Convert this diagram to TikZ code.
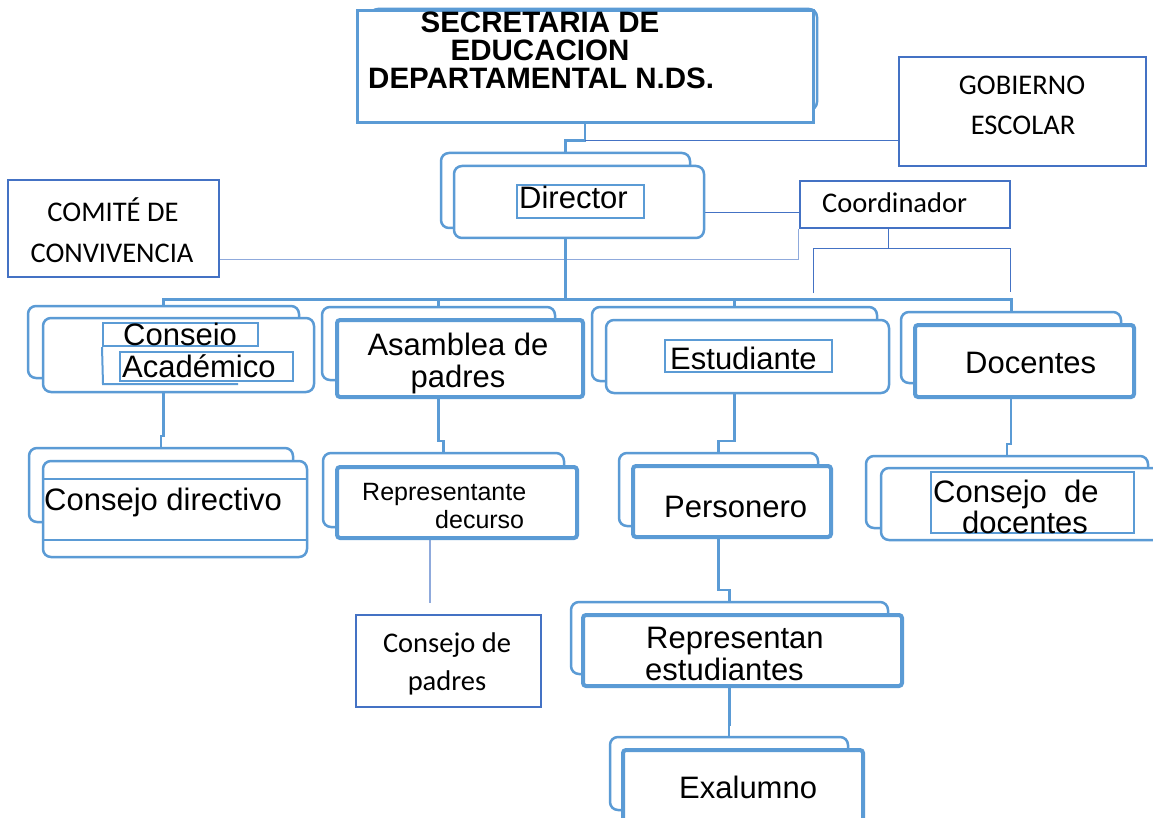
\documentclass[tikz,border=0pt]{standalone}
\usepackage{fontspec}
\setmainfont{Liberation Sans}
\newfontfamily\calib{Carlito}
\usetikzlibrary{calc,backgrounds}
\definecolor{bl}{HTML}{5B9BD5}
\definecolor{dbl}{HTML}{4472C4}
\definecolor{lbl}{HTML}{8FAADC}
\newcommand\bx[6]{\node[#6, minimum width={#4-#2}, minimum height={#5-#3}] (#1) at ({(#2+#4)/2},{(#3+#5)/2}) {};}
\newcommand\drop[2]{\draw[conn] (#1.south) -- ($(#1.south |- #2.north)+(0,-11)$) -| (#2.north);}
\begin{document}
\begin{tikzpicture}[x=1pt,y=-1pt,
  rbox/.style={draw=bl, line width=2.5pt, rounded corners=8pt, fill=white, inner sep=0pt},
  sbox/.style={draw=bl, line width=4pt, rounded corners=3pt, fill=white, inner sep=0pt},
  qbox/.style={draw=bl, line width=3pt, fill=white, inner sep=0pt},
  dbox/.style={draw=dbl, line width=2.5pt, fill=white, inner sep=0pt},
  ibox/.style={draw=bl, line width=2pt, inner sep=0pt},
  conn/.style={draw=bl, line width=2.5pt},
  tconn/.style={draw=dbl, line width=1pt},
  lconn/.style={draw=lbl, line width=1.3pt},
  ar/.style={font=\fontsize{31}{35}\selectfont, inner sep=0pt},
  arb/.style={font=\bfseries\fontsize{29.5}{30}\selectfont, inner sep=0pt},
  ars/.style={font=\fontsize{25}{29}\selectfont, inner sep=0pt},
  ca/.style={font=\calib\fontsize{28.5}{32}\selectfont, inner sep=0pt}]
\useasboundingbox (0,0) rectangle (1153,818);
% boxes
\bx{secB}{370}{9}{817}{110}{rbox}
\bx{sec}{357}{11}{813}{123}{qbox}
\bx{gob}{899}{57}{1146}{166}{dbox}
\bx{dirB}{441}{153}{690}{228}{rbox}
\bx{dir}{454}{166}{704}{238}{rbox}
\bx{dirI}{517}{185}{644}{218}{ibox}
\bx{coord}{800}{181}{1010}{228}{dbox}
\bx{com}{8}{180}{219}{277}{dbox}
\bx{caB}{28}{306}{299}{378}{rbox}
\bx{ca}{43}{318}{314}{392}{rbox}
\bx{caI}{103}{323}{258}{346}{ibox}
\bx{caJ}{120}{352}{293}{381}{ibox}
\bx{asB}{322}{307}{555}{380}{rbox}
\bx{as}{337}{320}{583}{397}{sbox}
\bx{estB}{592}{307}{877}{381}{rbox}
\bx{est}{606}{320}{889}{393}{rbox}
\bx{estI}{665}{340}{832}{372}{ibox}
\bx{docB}{901}{312}{1121}{383}{rbox}
\bx{doc}{915}{325}{1134}{397}{sbox}
\bx{cdB}{29}{448}{293}{522}{rbox}
\bx{cd}{43}{461}{307}{557}{rbox}
\bx{rpB}{323}{453}{564}{527}{rbox}
\bx{rp}{337}{467}{577}{538}{sbox}
\bx{pad}{356}{615}{541}{707}{dbox}
\bx{peB}{619}{453}{818}{526}{rbox}
\bx{pe}{633}{466}{831}{537}{sbox}
\bx{rsB}{571}{602}{888}{674}{rbox}
\bx{rs}{583}{615}{902}{686}{sbox}
\bx{exB}{610}{737}{848}{810}{rbox}
\bx{ex}{623}{750}{863}{835}{sbox}
\bx{cddB}{866}{456}{1148}{528}{rbox}
\bx{cdd}{881}{468}{1170}{540}{rbox}
\bx{cddI}{931}{472}{1134}{533}{ibox}
% extra inner lines
\draw[ibox] (caI.south west) -- (103,384) -- (238,384);
\draw[draw=bl, line width=2.5pt] (cd.west |- 0,479) -- (cd.east |- 0,479);
\draw[draw=bl, line width=2.5pt] (cd.west |- 0,540) -- (cd.east |- 0,540);
% connectors
\begin{pgfonlayer}{background}
\fill[white] (0,0) rectangle (1153,818);
\draw[conn] (sec.south) -- ($(sec.south |- dirB.north)+(0,-11)$) -| (dirB.north);
\draw[tconn] ($(sec.south)+(0,16)$) coordinate (j1) -- (j1 -| gob.west);
\draw[tconn] ([yshift=-8pt]coord.west) -- ([yshift=-8pt]coord.west -| dir.east);
\draw[lconn] ([yshift=-31pt]com.east) -| (coord.south west);
\draw[tconn] ([xshift=-17pt]coord.south) -- ++(0,19) coordinate (c1);
\coordinate (cl) at (813,293);
\coordinate (cr) at (1010,292);
\draw[tconn] (cl) |- (c1) -| (cr);
\draw[conn, line width=3pt] (dirB.south) -- ++(0,70) coordinate (t);
\draw[conn, line width=3pt] (caB.north) -- (caB.north |- t) -- (docB.north |- t) -- (docB.north);
\draw[conn] (asB.north) -- (asB.north |- t);
\draw[conn] (estB.north) -- (estB.north |- t);
\drop{caB}{cdB}
\drop{asB}{rpB}
\drop{estB}{peB}
\drop{docB}{cddB}
\drop{peB}{rsB}
\drop{rsB}{exB}
\draw[lconn] ([xshift=-27pt]rp.south) -- ++(0,63) coordinate (rpe);
\end{pgfonlayer}
% texts
\node[arb, anchor=base] (s1) at (540,33) {SECRETARIA DE};
\node[arb, anchor=base] (s2) at (540,61) {EDUCACION};
\node[arb, anchor=base west] (s3) at (368,89) {DEPARTAMENTAL N.DS.};
\node[ca, anchor=base] (g1) at (1022,95) {GOBIERNO};
\node[ca, anchor=base] (g2) at (1023,135) {ESCOLAR};
\node[ca, anchor=base] (k1) at (113,222) {COMITÉ DE};
\node[ca, anchor=base] (k2) at (112,262) {CONVIVENCIA};
\node[ca, anchor=base west] (co) at (822,213) {Coordinador};
\node[ca, anchor=base] (p1) at (447,652) {Consejo de};
\node[ca, anchor=base] (p2) at (447,690) {padres};
\node[ar, anchor=base west] (dt) at (519,209) {Director};
\node[ar, anchor=base west] (a1) at (123,345) {Conseio};
\node[ar, anchor=base west] (a2) at (122,377) {Académico};
\node[ar, anchor=base] (b1) at (458,355) {Asamblea de};
\node[ar, anchor=base] (b2) at (458,387) {padres};
\node[ar, anchor=base west] (et) at (670,369) {Estudiante};
\node[ar, anchor=base west] (dc) at (965,373) {Docentes};
\node[ar, anchor=base west] (cdt) at (44,510) {Consejo directivo};
\node[ars, anchor=base west] (r1) at (362,500) {Representante};
\node[ars, anchor=base west] (r2) at (435,528) {decurso};
\node[ar, anchor=base west] (pt) at (664,517) {Personero};
\node[ar, anchor=base west] (q1) at (646,648) {Representan};
\node[ar, anchor=base west] (q2) at (645,680) {estudiantes};
\node[ar, anchor=base west] (xt) at (679,798) {Exalumno};
\node[ar, anchor=base west] (d1) at (933,502) {Consejo\ \ de};
\node[ar, anchor=base] (d2) at (1025,533) {docentes};
\end{tikzpicture}
\end{document}
